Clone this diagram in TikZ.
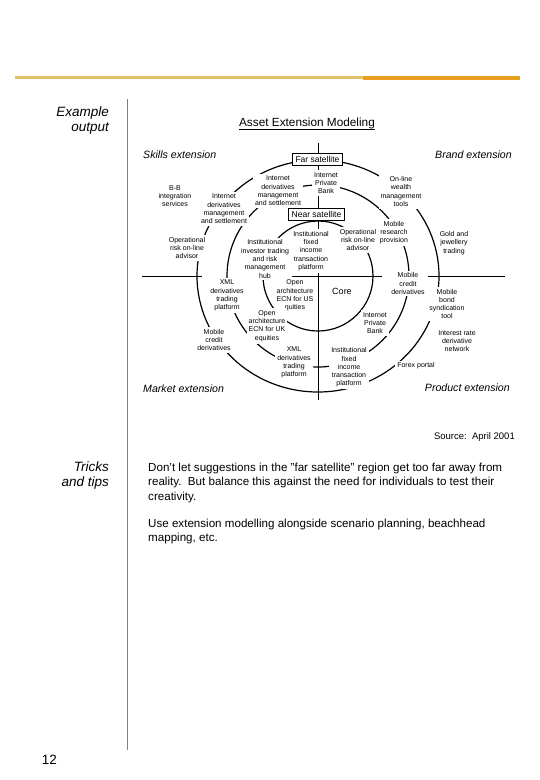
\documentclass[tikz,border=0pt]{standalone}
\usepackage{fontspec}
\setmainfont{Liberation Sans}
\definecolor{goldL}{RGB}{226,192,110}
\definecolor{goldR}{RGB}{232,158,30}
\definecolor{sepgray}{RGB}{128,128,128}
\begin{document}
\begin{tikzpicture}[x=1pt,y=-1pt,
  lbl/.style={align=center,font=\fontsize{7}{8.3}\selectfont,fill=white,inner sep=2pt},
  ring/.style={line width=1.2pt},
  axis/.style={line width=0.9pt},
  satbox/.style={draw,line width=0.8pt,fill=white,font=\fontsize{8.5}{10}\selectfont,inner xsep=3pt,inner ysep=0pt,minimum height=12pt},
  ext/.style={font=\fontsize{10.6}{12}\selectfont\itshape,inner sep=0pt},
  side/.style={font=\fontsize{13.5}{15}\selectfont\itshape,align=right,inner sep=0pt,anchor=east},
  body/.style={font=\fontsize{11.6}{14.6}\selectfont,align=left,inner sep=0pt,anchor=west}]
\useasboundingbox (0,0) rectangle (540,780);
\fill[white] (0,0) rectangle (540,780);
% page furniture
\coordinate (gl1) at (15,77.5); \coordinate (gl2) at (363,77.5);
\coordinate (gr1) at (363,78); \coordinate (gr2) at (520,78);
\draw[goldL,line width=2.2pt] (gl1) -- (gl2);
\draw[goldR,line width=3.5pt] (gr1) -- (gr2);
\coordinate (s1) at (127,99); \coordinate (s2) at (127,750);
\draw[sepgray,line width=1pt] (s1) -- (s2);
\node[side] (ex) at (109,120.5) {Example\\output};
\node[side] (tt) at (109,475.5) {Tricks\\and tips};
\node[font=\fontsize{13.5}{15}\selectfont] (pg) at (49.5,760) {12};
% title
\node[font=\fontsize{11.8}{14}\selectfont,inner sep=0pt,anchor=base] (title) at (307,126.5) {Asset Extension Modeling};
\draw[line width=0.6pt] ([yshift=-2.8pt]title.base west) -- ([yshift=-2.8pt]title.base east);
\node[ext,anchor=west] (sk) at (143,155) {Skills extension};
\node[ext,anchor=east] (br) at (512,155) {Brand extension};
\node[ext,anchor=west] (mk) at (143,389) {Market extension};
\node[ext,anchor=east] (pr) at (510,388) {Product extension};
% rings and axes
\coordinate (c) at (318,276);
\draw[ring] (c) circle[radius=55pt];
\draw[ring] (c) circle[radius=91pt];
\draw[ring] (c) ellipse[x radius=121pt,y radius=116pt];
\coordinate (vt) at (318,143); \coordinate (vb) at (318,400);
\draw[axis] (vt) -- (vb);
\coordinate (h1) at (142,276); \coordinate (h2) at (202,276);
\coordinate (h3) at (292,276); \coordinate (h4) at (382,276);
\coordinate (h5) at (428,276); \coordinate (h6) at (505,276);
\draw[axis] (h1) -- (h2);
\draw[axis] (h3) -- (h4);
\draw[axis] (h5) -- (h6);
% boxes
\node[satbox] (far) at (317.5,159) {Far satellite};
\node[satbox] (near) at (316.5,214) {Near satellite};
\node[font=\fontsize{9}{10}\selectfont,inner sep=0pt] (core) at (342,291) {Core};
% labels
\node[lbl] (bb) at (175,196) {B-B\\integration\\services};
\node[lbl] (idl) at (224,209) {Internet\\derivatives\\management\\and settlement};
\node[lbl] (idu) at (278,191) {Internet\\derivatives\\management\\and settlement};
\node[lbl] (ipbt) at (326,183) {Internet\\Private\\Bank};
\node[lbl] (ifit) at (311,251) {Institutional\\fixed\\income\\transaction\\platform};
\node[lbl] (iit) at (265,259) {Institutional\\investor trading\\and risk\\management\\hub};
\node[lbl] (orl) at (187,248) {Operational\\risk on-line\\advisor};
\node[lbl] (xmll) at (227,295.5) {XML\\derivatives\\trading\\platform};
\node[lbl] (oaus) at (295,295.5) {Open\\architecture\\ECN for US\\quities};
\node[lbl] (oauk) at (267,326) {Open\\architecture\\ECN for UK\\equities};
\node[lbl] (mcdl) at (214,340) {Mobile\\credit\\derivatives};
\node[lbl] (xmlb) at (294,362.5) {XML\\derivatives\\trading\\platform};
\node[lbl] (ipbr) at (375,323) {Internet\\Private\\Bank};
\node[lbl] (ifib) at (349,367.5) {Institutional\\fixed\\income\\transaction\\platform};
\node[lbl] (fx) at (416,366) {Forex portal};
\node[lbl] (ird) at (457,341) {Interest rate\\derivative\\network};
\node[lbl] (mbs) at (447,304) {Mobile\\bond\\syndication\\tool};
\node[lbl] (mcdr) at (408,283.5) {Mobile\\credit\\derivatives};
\node[lbl] (gold) at (454,243) {Gold and\\jewellery\\trading};
\node[lbl] (mrp) at (394,232.5) {Mobile\\research\\provision};
\node[lbl] (orr) at (358,240) {Operational\\risk on-line\\advisor};
\node[lbl] (olw) at (401,191.5) {On-line\\wealth\\management\\tools};
% source and tips
\node[font=\fontsize{9.5}{11}\selectfont,inner sep=0pt,anchor=east] (src) at (515,437) {Source:\ \ April 2001};
\node[body] (p1) at (148,482.7) {Don't let suggestions in the "far satellite" region get too far away from\\reality.\ \ But balance this against the need for individuals to test their\\creativity.};
\node[body] (p2) at (148,531.5) {Use extension modelling alongside scenario planning, beachhead\\mapping, etc.};
\end{tikzpicture}
\end{document}
